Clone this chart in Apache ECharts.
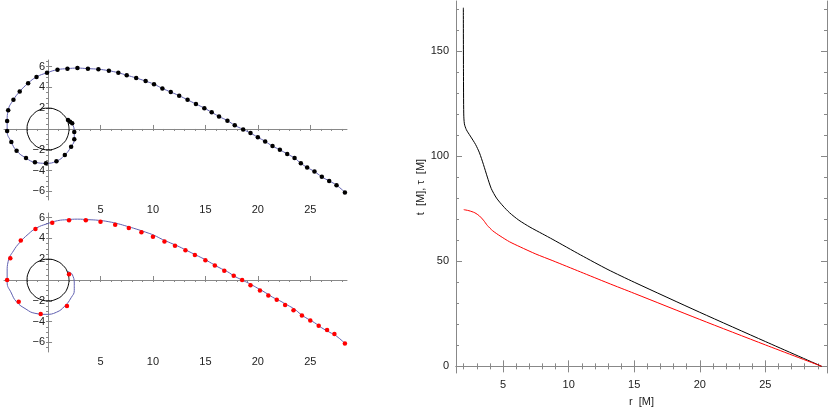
<!DOCTYPE html>
<html><head><meta charset="utf-8">
<script src="https://cdn.jsdelivr.net/npm/echarts@6/dist/echarts.min.js"></script>
<style>html,body{margin:0;padding:0;background:#fff}#c{width:830px;height:411px}</style>
</head><body><div id="c"></div>
<script>
// trajectory (black sample points), x,y in M
var blackPts = [[1.9,0.85],[2.1,0.7],[2.3,0.55],[2.5,-0.3],[2.5,-1.0],[2.2,-1.7],[1.6,-2.5],[0.8,-3.1],[-0.2,-3.3],[-1.25,-3.2],[-2.1,-2.8],[-3.0,-2.1],[-3.5,-1.25],[-3.9,-0.2],[-3.9,0.77],[-3.8,1.8],[-3.3,2.8],[-2.7,3.6],[-1.9,4.4],[-1.1,5.0],[-0.1,5.4],[0.9,5.7],[1.85,5.8],[2.8,5.85],[3.8,5.8],[4.8,5.74],[5.8,5.6],[6.7,5.4],[7.5,5.17],[8.4,4.9],[9.3,4.6],[10.1,4.3],[10.9,3.9],[11.7,3.55],[12.5,3.2],[13.3,2.8],[14.1,2.4],[14.9,2.0],[15.6,1.6],[16.3,1.2],[17.1,0.8],[17.8,0.35],[18.6,-0.05],[19.3,-0.4],[20.0,-0.8],[20.7,-1.2],[21.4,-1.65],[22.1,-2.0],[22.8,-2.4],[23.5,-2.8],[24.1,-3.3],[24.7,-3.7],[25.4,-4.1],[26.1,-4.6],[26.8,-5.0],[27.5,-5.4],[28.3,-6.1]];
// red sample points
var redPts = [[2.0,0.55],[1.8,-2.5],[-0.7,-3.27],[-2.8,-2.1],[-3.9,0.0],[-3.6,2.1],[-2.6,3.8],[-1.2,4.9],[0.4,5.5],[2.0,5.75],[3.6,5.75],[5.0,5.6],[6.4,5.3],[7.7,5.0],[8.9,4.6],[10.0,4.15],[11.1,3.7],[12.1,3.3],[13.1,2.85],[14.0,2.4],[15.0,1.9],[15.9,1.4],[16.8,0.9],[17.7,0.4],[18.5,0.0],[19.3,-0.5],[20.2,-1.0],[21.0,-1.5],[21.8,-1.9],[22.6,-2.4],[23.4,-2.9],[24.2,-3.4],[25.0,-3.9],[25.8,-4.4],[26.6,-4.8],[27.3,-5.2],[28.3,-6.1]];
// horizon r=2
var horizon = [[2,0],[1.848,0.765],[1.414,1.414],[0.765,1.848],[0,2],[-0.765,1.848],[-1.414,1.414],[-1.848,0.765],[-2,0],[-1.848,-0.765],[-1.414,-1.414],[-0.765,-1.848],[0,-2],[0.765,-1.848],[1.414,-1.414],[1.848,-0.765],[2,0]];
// right panel: t(r) and tau(r)
var tCurve = [[1.97,170.5],[1.98,140],[2.0,120],[2.05,115.3],[2.2,112.5],[2.5,109.5],[2.9,105.5],[3.2,101.5],[3.5,96],[3.8,90],[4.1,84.5],[4.5,80],[5.0,76.2],[5.5,73],[6.2,69.5],[7.05,66.2],[8.0,63],[8.8,60.3],[10.9,53],[13,46],[15,40],[20,25.7],[25,11.8],[29.3,0]];
var tauCurve = [[2.0,74.5],[2.4,74],[2.85,73],[3.2,71.5],[3.5,69.5],[3.8,67],[4.2,64.5],[4.77,62],[5.5,59.2],[6.3,56.8],[7.5,53.4],[8.8,50.2],[10.9,44.9],[13,39.6],[15,34.7],[20,22.3],[25,10.2],[29.3,0]];
var leftXTicks = [5,10,15,20,25];
var leftYTicks = [-6,-4,-2,2,4,6];
var rightXTicks = [5,10,15,20,25];
var rightYTicks = [0,50,100,150];

function range(a,b,s){var r=[];for(var v=a;v<=b+1e-9;v+=s)r.push(+v.toFixed(3));return r;}
function neg(v){return v<0?'\u2212'+(-v):''+v;}
var font = {fontFamily:'Liberation Sans, Arial, sans-serif', fontSize:11, color:'#222'};
var axCol = '#888';
var xAxes=[], yAxes=[], grids=[], series=[];
var XMIN=-4.2, XMAX=28.5, GW=343;
var yLabOffset = -(0-XMIN)/(XMAX-XMIN)*GW;
function leftPanel(top,h,ymin,ymax){
  var gi=grids.length;
  grids.push({left:4,top:top,width:GW,height:h,outerBoundsMode:'none',containLabel:false});
  var xi=xAxes.length, yi=yAxes.length;
  xAxes.push({type:'value',gridIndex:gi,min:XMIN,max:XMAX,axisLine:{onZero:true,lineStyle:{color:axCol}},splitLine:{show:false},
    axisTick:{customValues:leftXTicks,length:4,inside:true,lineStyle:{color:axCol}},axisLabel:Object.assign({customValues:leftXTicks,margin:4,hideOverlap:false},font)});
  xAxes.push({type:'value',gridIndex:gi,min:XMIN,max:XMAX,axisLine:{show:false,onZero:true},splitLine:{show:false},
    axisTick:{customValues:range(-4,28,1),length:2,inside:true,lineStyle:{color:axCol}},axisLabel:{show:false}});
  yAxes.push({type:'value',gridIndex:gi,min:ymin,max:ymax,axisLine:{onZero:true,lineStyle:{color:axCol}},splitLine:{show:false},
    axisTick:{customValues:leftYTicks,length:4,inside:true,lineStyle:{color:axCol}},axisLabel:{show:false}});
  yAxes.push({type:'value',gridIndex:gi,min:ymin,max:ymax,axisLine:{show:false,onZero:true},splitLine:{show:false},
    axisTick:{customValues:range(-6.5,6.5,0.5),length:2,inside:true,lineStyle:{color:axCol}},axisLabel:{show:false}});
  yAxes.push({type:'value',gridIndex:gi,position:'left',offset:yLabOffset,min:ymin,max:ymax,axisLine:{show:false,onZero:false},splitLine:{show:false},
    axisTick:{show:false},axisLabel:Object.assign({customValues:leftYTicks,margin:3,formatter:neg,hideOverlap:false},font)});
  return {xi:xi,yi:yi};
}
var p1=leftPanel(60,140,-6.83,6.63);
var p2=leftPanel(213,139,-6.92,6.44);
[p1,p2].forEach(function(p,k){
  series.push({type:'line',xAxisIndex:p.xi,yAxisIndex:p.yi,data:horizon,smooth:true,symbol:'none',lineStyle:{color:'#000',width:1},silent:true});
  series.push({type:'line',xAxisIndex:p.xi,yAxisIndex:p.yi,data:blackPts,smooth:true,symbol:'none',lineStyle:{color:'#5f5fb0',width:1},silent:true});
  series.push({type:'scatter',xAxisIndex:p.xi,yAxisIndex:p.yi,data:k===0?blackPts:redPts,symbolSize:4.5,z:5,itemStyle:{color:k===0?'#000':'#ff0000',opacity:1},silent:true});
});
// right panel
var gi=grids.length;
grids.push({left:456,top:1,width:371,height:372,outerBoundsMode:'none',containLabel:false});
var rx=xAxes.length;
var fr={show:true,lineStyle:{color:axCol}};
xAxes.push({type:'value',gridIndex:gi,position:'bottom',min:1.41,max:29.7,axisLine:fr,splitLine:{show:false},
  axisTick:{customValues:rightXTicks,length:6,inside:true,lineStyle:{color:axCol}},axisLabel:Object.assign({customValues:rightXTicks,margin:6},font),
  name:'r  [M]',nameLocation:'middle',nameGap:23,nameTextStyle:font});
xAxes.push({type:'value',gridIndex:gi,position:'bottom',min:1.41,max:29.7,axisLine:{show:false},splitLine:{show:false},
  axisTick:{customValues:range(2,29,1),length:3,inside:true,lineStyle:{color:axCol}},axisLabel:{show:false}});
xAxes.push({type:'value',gridIndex:gi,position:'top',min:1.41,max:29.7,axisLine:fr,splitLine:{show:false},
  axisTick:{customValues:rightXTicks,length:6,inside:true,lineStyle:{color:axCol}},axisLabel:{show:false}});
xAxes.push({type:'value',gridIndex:gi,position:'top',min:1.41,max:29.7,axisLine:{show:false},splitLine:{show:false},
  axisTick:{customValues:range(2,29,1),length:3,inside:true,lineStyle:{color:axCol}},axisLabel:{show:false}});
var ry=yAxes.length;
yAxes.push({type:'value',gridIndex:gi,position:'left',min:-3.16,max:173.7,axisLine:fr,splitLine:{show:false},
  axisTick:{customValues:rightYTicks,length:6,inside:true,lineStyle:{color:axCol}},axisLabel:Object.assign({customValues:rightYTicks,margin:7},font),
  name:'t  [M], τ  [M]',nameLocation:'middle',nameGap:27,nameTextStyle:font});
yAxes.push({type:'value',gridIndex:gi,position:'left',min:-3.16,max:173.7,axisLine:{show:false},splitLine:{show:false},
  axisTick:{customValues:range(0,170,10),length:3,inside:true,lineStyle:{color:axCol}},axisLabel:{show:false}});
yAxes.push({type:'value',gridIndex:gi,position:'right',min:-3.16,max:173.7,axisLine:fr,splitLine:{show:false},
  axisTick:{customValues:rightYTicks,length:6,inside:true,lineStyle:{color:axCol}},axisLabel:{show:false}});
yAxes.push({type:'value',gridIndex:gi,position:'right',min:-3.16,max:173.7,axisLine:{show:false},splitLine:{show:false},
  axisTick:{customValues:range(0,170,10),length:3,inside:true,lineStyle:{color:axCol}},axisLabel:{show:false}});
series.push({type:'line',xAxisIndex:rx,yAxisIndex:ry,data:tCurve,smooth:0.25,symbol:'none',lineStyle:{color:'#000',width:1}});
series.push({type:'line',xAxisIndex:rx,yAxisIndex:ry,data:tauCurve,smooth:0.25,symbol:'none',lineStyle:{color:'#ff0000',width:1}});

var chart=echarts.init(document.getElementById('c'));
chart.setOption({animation:false,grid:grids,xAxis:xAxes,yAxis:yAxes,series:series});
</script></body></html>
